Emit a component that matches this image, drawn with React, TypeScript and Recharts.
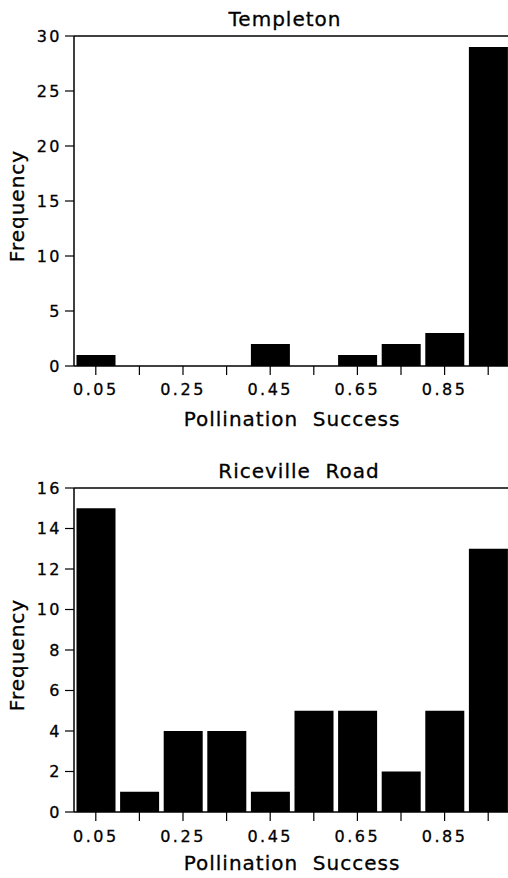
import { BarChart, Bar, XAxis, YAxis, ReferenceLine } from 'recharts'

const bins = ['0.05', '0.15', '0.25', '0.35', '0.45', '0.55', '0.65', '0.75', '0.85', '0.95']
const labelledBins = ['0.05', '0.25', '0.45', '0.65', '0.85']
const templetonCounts = [1, 0, 0, 0, 2, 0, 1, 2, 3, 29]
const ricevilleCounts = [15, 1, 4, 4, 1, 5, 5, 2, 5, 13]
const templetonTicks = [0, 5, 10, 15, 20, 25, 30]
const ricevilleTicks = [0, 2, 4, 6, 8, 10, 12, 14, 16]

const FONT = '"DejaVu Sans", sans-serif'
const TICK_STYLE = { fontFamily: FONT, fontSize: 16, fill: '#000', stroke: '#000', strokeWidth: 0.3, letterSpacing: 2.5 }
const TITLE_STYLE = { fontFamily: FONT, fontSize: 20, fill: '#000', stroke: '#000', strokeWidth: 0.3, letterSpacing: 1, whiteSpace: 'pre' as const }

interface PanelProps {
    title: string
    counts: number[]
    ticks: number[]
    top: number
    height: number
    plotTop: number
    axisHeight: number
    titleX: number
    tickMargin: number
    xTitleOffset: number
}

function Panel({ title, counts, ticks, top, height, plotTop, axisHeight, titleX, tickMargin, xTitleOffset }: PanelProps) {
    const data = bins.map((bin, i) => ({ bin, count: counts[i] }))
    const max = ticks[ticks.length - 1]

    return (
        <div style={{ position: 'absolute', left: 0, top }}>
            <BarChart width={510} height={height} data={data} barCategoryGap={2.5}
                margin={{ top: plotTop, right: 0, bottom: 0, left: 0 }}>
                <XAxis dataKey="bin" interval={0} height={axisHeight}
                    tickFormatter={(v) => (labelledBins.includes(v) ? v : '')}
                    tick={TICK_STYLE} tickSize={9} tickMargin={tickMargin}
                    axisLine={{ stroke: '#000', strokeWidth: 1.5 }} tickLine={{ stroke: '#000', strokeWidth: 1.2 }}
                    label={{
                        content: ({ viewBox }: any) => (
                            <text x={viewBox.x + viewBox.width / 2} y={viewBox.y + xTitleOffset}
                                textAnchor="middle" style={TITLE_STYLE}>Pollination  Success</text>
                        ),
                    }} />
                <YAxis domain={[0, max]} ticks={ticks} width={74} interval={0}
                    tick={TICK_STYLE} tickSize={9} tickMargin={3}
                    axisLine={{ stroke: '#000', strokeWidth: 1.5 }} tickLine={{ stroke: '#000', strokeWidth: 1.2 }}
                    label={{
                        content: ({ viewBox }: any) => {
                            const cx = 24
                            const cy = viewBox.y + viewBox.height / 2 + 5
                            return (
                                <text x={cx} y={cy} transform={`rotate(-90 ${cx} ${cy})`}
                                    textAnchor="middle" style={TITLE_STYLE}>Frequency</text>
                            )
                        },
                    }} />
                <ReferenceLine y={max} stroke="#000" strokeWidth={1.5}
                    label={{
                        content: ({ viewBox }: any) => (
                            <text x={titleX} y={viewBox.y - 10} textAnchor="middle" style={TITLE_STYLE}>{title}</text>
                        ),
                    }} />
                <Bar dataKey="count" fill="#000" isAnimationActive={false} />
            </BarChart>
        </div>
    )
}

export default function App() {
    return (
        <div style={{ position: 'absolute', left: 0, top: 0, width: 508, height: 878, overflow: 'hidden', background: '#fff' }}>
            <Panel title="Templeton" counts={templetonCounts} ticks={templetonTicks}
                top={0} height={440} plotTop={36} axisHeight={74} titleX={285}
                tickMargin={9} xTitleOffset={60} />
            <Panel title="Riceville  Road" counts={ricevilleCounts} ticks={ricevilleTicks}
                top={440} height={438} plotTop={48} axisHeight={66} titleX={299}
                tickMargin={10} xTitleOffset={58} />
        </div>
    )
}
